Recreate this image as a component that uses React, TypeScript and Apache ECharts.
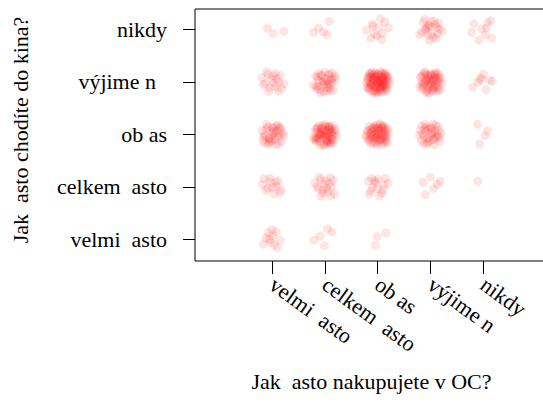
import { useEffect, useRef } from 'react';
import * as echarts from 'echarts';

// Answer levels shared by both questions (Czech diacritics dropped by the source encoding)
const levelLabels = ['velmi\u00a0\u00a0asto', 'celkem\u00a0\u00a0asto', 'ob\u00a0as', 'výjime\u00a0n\u00a0\u00a0', 'nikdy'];
const levelValues = [1, 2, 3, 4, 5];

// Respondent counts per cinema answer (y), listed by shopping-centre answer (x = 1..5)
const kinoVelmiCasto = [11, 5, 3, 0, 0];
const kinoCelkemCasto = [13, 18, 15, 6, 1];
const kinoObcas = [35, 62, 62, 35, 4];
const kinoVyjimecne = [18, 35, 85, 55, 8];
const kinoNikdy = [3, 5, 12, 22, 9];

// Fixed jitter offsets (hundredths of a category step), cycled through per cell
const jitterTable: [number, number][] = [
  [5, -12], [-14, 3], [9, 17], [-3, -6], [18, -2], [-8, 14], [2, 8], [-19, -11], [12, -18], [-6, 0],
  [0, 21], [15, 6], [-11, -17], [7, -4], [-16, 10], [22, 12], [-2, -22], [10, 1], [-9, -3], [4, -15],
  [-21, 5], [13, 13], [-5, 19], [17, -13], [-13, -8], [1, -1], [8, 10], [-18, 18], [20, -7], [-4, 11],
  [11, -9], [-10, 7], [6, 23], [-24, -2], [16, 16], [-1, -14], [3, 4], [-15, -20], [24, 3], [-7, -10],
  [9, -23], [-12, 12], [14, -5], [-20, -14], [0, 15], [19, 9], [-6, -18], [5, 2], [-17, 0], [12, 20],
  [-3, -7], [21, -16], [-9, 16], [7, -11], [-14, -4], [2, 13], [15, -1], [-22, 9], [10, 7], [-8, -21],
  [4, -3], [-12, 22], [18, 14], [-1, 6], [-5, -13], [13, -20], [-19, -6], [8, 18], [26, -4], [-10, 2],
  [3, -9], [-16, 15], [11, 10], [-2, -25], [16, -10], [-7, 5], [6, -17], [-23, -12], [20, 1], [-4, 9],
  [1, 17], [-11, -1], [14, 4], [-13, 19], [9, -14], [-18, -16], [23, 8], [-6, 13], [4, -20], [12, -6],
  [-15, -9], [0, -4], [17, 19], [-20, 12], [7, 3], [-9, -24], [19, -19], [-3, 1], [10, 15], [-25, -7],
];

const FONT = 'Liberation Serif';

function buildPoints(): [number, number][] {
  const rows = [kinoVelmiCasto, kinoCelkemCasto, kinoObcas, kinoVyjimecne, kinoNikdy];
  const pts: [number, number][] = [];
  rows.forEach((row, yi) => {
    row.forEach((count, xi) => {
      const start = (yi * 17 + xi * 31) % jitterTable.length;
      for (let k = 0; k < count; k++) {
        const [dx, dy] = jitterTable[(start + k) % jitterTable.length];
        pts.push([levelValues[xi] + dx / 115, levelValues[yi] + dy / 115]);
      }
    });
  });
  return pts;
}

export default function App() {
  const ref = useRef<HTMLDivElement>(null);

  useEffect(() => {
    const chart = echarts.init(ref.current!, null, { renderer: 'svg' });
    chart.setOption({
      animation: false,
      backgroundColor: '#fff',
      textStyle: { fontFamily: FONT },
      grid: {
        left: 195,
        right: -5,
        top: 9,
        bottom: 145,
        show: true,
        borderColor: '#000',
        borderWidth: 1,
        containLabel: false,
        outerBoundsMode: 'none',
      },
      xAxis: {
        type: 'value',
        min: -0.46,
        max: 6.23,
        axisLine: { show: false, onZero: false },
        splitLine: { show: false },
        axisTick: { show: true, length: 13, customValues: levelValues, lineStyle: { color: '#000' } },
        axisLabel: {
          customValues: levelValues,
          formatter: (v: number) => levelLabels[Math.round(v) - 1],
          rotate: -36,
          margin: 21,
          fontFamily: FONT,
          fontSize: 22,
          color: '#000',
        },
        name: 'Jak\u00a0\u00a0asto nakupujete v OC?',
        nameLocation: 'middle',
        nameGap: 109,
        nameTextStyle: { fontFamily: FONT, fontSize: 22, color: '#000' },
      },
      yAxis: {
        type: 'value',
        min: 0.587,
        max: 5.386,
        axisLine: { show: false, onZero: false },
        splitLine: { show: false },
        axisTick: { show: true, length: 12, customValues: levelValues, lineStyle: { color: '#000' } },
        axisLabel: {
          customValues: levelValues,
          formatter: (v: number) => levelLabels[Math.round(v) - 1],
          margin: 28,
          fontFamily: FONT,
          fontSize: 22,
          color: '#000',
        },
        name: 'Jak\u00a0\u00a0asto chodíte do kina?',
        nameLocation: 'middle',
        nameGap: 164,
        nameRotate: 90,
        nameTextStyle: { fontFamily: FONT, fontSize: 22, color: '#000', padding: [0, 0, 0, 10] },
      },
      series: [
        {
          type: 'scatter',
          data: buildPoints(),
          symbol: 'circle',
          symbolSize: 9,
          itemStyle: { color: 'rgba(255,0,0,0.13)', borderWidth: 0 },
          silent: true,
        },
      ],
    });
    return () => chart.dispose();
  }, []);

  return (
    <div
      ref={ref}
      style={{ position: 'absolute', left: 0, top: 0, width: 543, height: 406, background: '#fff' }}
    />
  );
}
